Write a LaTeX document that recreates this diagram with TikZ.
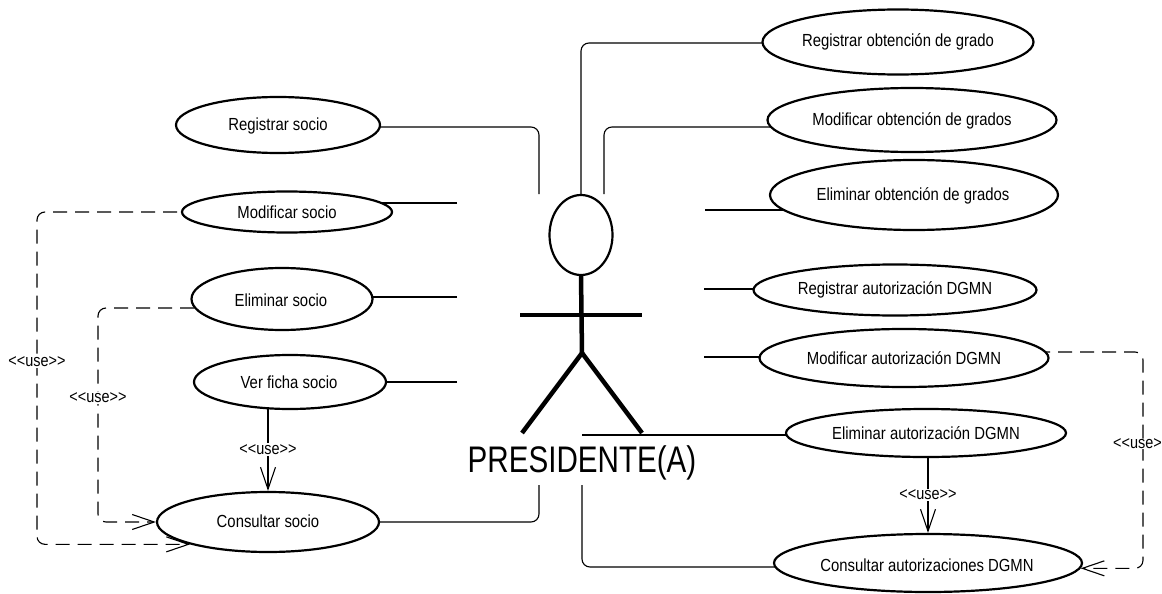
\documentclass[tikz,border=0pt]{standalone}
\usepackage{fontspec}
\newfontfamily\ucfont[FakeStretch=0.85]{Liberation Sans}
\newfontfamily\actfont[FakeStretch=0.8]{Liberation Sans}
\usetikzlibrary{shapes.geometric,arrows.meta,backgrounds,calc}
\newcommand\usetxt{<\kern0pt<use>\kern0pt>}
\newcommand\ucnode[6]{%
  \node[uc, minimum width=#3pt, minimum height=#4pt] (#1) at (#2) {};
  \node[uctxt] (#1-t) at (#5) {#6};}
\tikzset{
  uc/.style={ellipse, draw, line width=2.2pt, fill=white, inner sep=0pt},
  uctxt/.style={font=\ucfont\fontsize{17.5}{20}\selectfont, inner sep=0pt},
  assoc/.style={line width=1.1pt, rounded corners=8pt},
  tipv/.style={-{Straight Barb[length=22pt,width=15pt,line width=1.1pt]}},
  dep/.style={line width=1.1pt, dash pattern=on 14pt off 8pt, rounded corners=8pt, tipv},
  incl/.style={line width=1.1pt, tipv},
  uselbl/.style={font=\ucfont\fontsize{17}{19}\selectfont, fill=white, inner sep=1pt},
  actorline/.style={line width=4.5pt},
}
\begin{document}
\begin{tikzpicture}[x=1pt,y=-1pt]
\useasboundingbox (0,0) rectangle (1162,594);
\begin{pgfonlayer}{background}
\fill[white] (0,0) rectangle (1162,594);
\end{pgfonlayer}

% use cases, left
\ucnode{rs}{278,125}{204}{56}{278,126}{Registrar socio}
\ucnode{ms}{287,212}{210}{41}{287,212}{Modificar socio}
\ucnode{es}{282,299}{181}{62}{281,300}{Eliminar socio}
\ucnode{vf}{290,382}{192}{54}{289,382}{Ver ficha socio}
\ucnode{cs}{268,522}{222}{60}{268,521}{Consultar socio}
% use cases, right
\ucnode{ro}{898,42}{271}{65}{898,42}{Registrar obtención de grado}
\ucnode{mo}{912,120}{289}{64}{912,121}{Modificar obtención de grados}
\ucnode{eo}{914,195}{288}{70}{913,196}{Eliminar obtención de grados}
\ucnode{ra}{895,290}{283}{51}{895,290}{Registrar autorización DGMN}
\ucnode{ma}{904,358}{289}{58}{904,358}{Modificar autorización DGMN}
\ucnode{ea}{926,433}{280}{48}{926,433}{Eliminar autorización DGMN}
\ucnode{ca}{928,563}{308}{58}{927,565}{Consultar autorizaciones DGMN}

% actor
\node[ellipse, draw, line width=2.2pt, minimum width=63pt, minimum height=80pt, inner sep=0pt] (head) at (581,235) {};
\coordinate (hip) at (582,353);
\coordinate (armL) at (520,315);
\coordinate (armR) at (642,315);
\coordinate (footL) at (522,433);
\coordinate (footR) at (642,433);
\draw[actorline] (head.south) -- (hip);
\draw[actorline] (armL) -- (armR);
\draw[actorline] (footL) -- (hip) -- (footR);
\node[font=\actfont\fontsize{37}{40}\selectfont, inner sep=0pt, anchor=base] (actlbl) at (582,472) {PRESIDENTE(A)};

% actor-side ends
\coordinate (aRS) at (539,194);
\coordinate (aMS) at (457,203);
\coordinate (aES) at (457,297);
\coordinate (aVF) at (457,382);
\coordinate (aCS) at (539,485);
\coordinate (aMO) at (604,194);
\coordinate (aEO) at (705,210);
\coordinate (aRA) at (704,289);
\coordinate (aMA) at (704,357);
\coordinate (aEA) at (582,435);
\coordinate (aCA) at (582,485);
\coordinate (d1x) at (37,300);
\coordinate (d2x) at (98,400);
\coordinate (d3x) at (1143,460);

\begin{pgfonlayer}{background}
\draw[assoc] (aRS) |- ([yshift=-2pt]rs.center);
\draw[assoc] (aMS) -- (aMS -| ms.center);
\draw[assoc] (aES) -- (aES -| es.center);
\draw[assoc] (aVF) -- (aVF -| vf.center);
\draw[assoc] (aCS) |- (cs.center);
\draw[assoc] (head.north) |- ([yshift=-1pt]ro.center);
\draw[assoc] (aMO) |- ([yshift=-7pt]mo.center);
\draw[assoc] (aEO) -- (aEO -| eo.center);
\draw[assoc] (aRA) -- (aRA -| ra.center);
\draw[assoc] (aMA) -- (aMA -| ma.center);
\draw[assoc] (aEA) -- (aEA -| ea.center);
\draw[assoc] (aCA) |- ([yshift=-4pt]ca.center);
% dependencies
\draw[dep] (ms.center) -| (d1x) |- (cs.196);
\draw[dep] ([yshift=-9pt]es.center) -| (d2x) |- (cs.west);
\draw[dep] ([yshift=6pt]ma.center) -| (d3x) |- (ca.-2.3);
\draw[incl] (vf.center -| cs.north) -- node[uselbl, pos=0.62] (u3) {\usetxt} (cs.north);
\draw[incl] (ea.center -| ca.north) -- node[uselbl, pos=0.62] (u4) {\usetxt} (ca.north);
\end{pgfonlayer}

\node[uselbl] (u1) at (37,362) {\usetxt};
\node[uselbl] (u2) at (98,398) {\usetxt};
\node[uselbl, anchor=east, inner sep=0pt] (u5) at (1162,444) {<\kern0pt<use>};
\end{tikzpicture}
\end{document}
